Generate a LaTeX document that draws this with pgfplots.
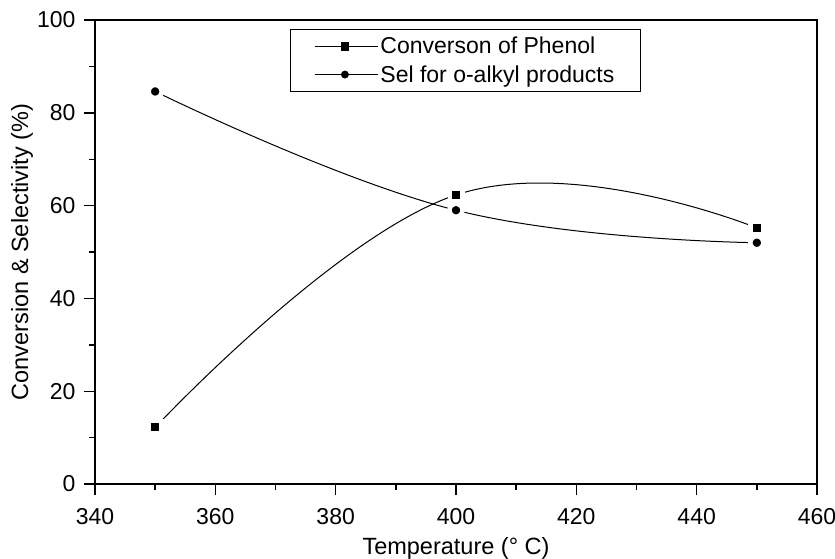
\documentclass[border=0pt]{standalone}
\usepackage{fontspec}
\setmainfont{Liberation Sans}
\usepackage{pgfplots}
\pgfplotsset{compat=1.18}
\begin{document}
\begin{tikzpicture}
\useasboundingbox (-95pt,-74pt) rectangle (740pt,484pt);
\begin{axis}[
  at={(0pt,0pt)}, anchor=south west,
  scale only axis, width=722pt, height=464pt,
  xmin=340, xmax=460, ymin=0, ymax=100,
  xtick={340,360,...,460}, ytick={0,20,...,100},
  minor x tick num=1, minor y tick num=1,
  xtick pos=bottom, ytick pos=left,
  tick align=outside,
  major tick length=11pt, minor tick length=6pt,
  every tick/.style={black, line width=1.4pt},
  axis line style={line width=1.6pt},
  /pgf/number format/assume math mode=true,
  tick label style={font=\fontsize{23}{27}\selectfont},
  xticklabel style={yshift=-10pt},
  yticklabel style={xshift=-5pt},
  label style={font=\fontsize{23.5}{28}\selectfont},
  xlabel={Temperature (\textdegree\ C)},
  ylabel={Conversion \& Selectivity (\%)},
  xlabel style={at={(axis description cs:0.5,-0.138)}, anchor=center},
  ylabel style={at={(axis description cs:-0.101,0.5)}, anchor=center},
  legend style={at={(0.270,0.981)}, anchor=north west, draw=black, line width=1pt,
    font=\fontsize{23}{27}\selectfont, inner xsep=24pt, inner ysep=6pt,
    row sep=6pt},
  legend cell align=left,
  legend image code/.code={
    \path (0pt,0pt) -- (63pt,0pt);
    \draw[#1, mark=none] (0pt,0pt) -- (60pt,0pt);
    \draw[#1, only marks, mark size=3.7pt, mark options={fill=black, draw=black, line width=0.4pt}] plot coordinates {(30pt,0pt)};
  },
]
\addplot[black, line width=1pt, smooth, tension=0.72, mark=square*, mark size=6.25pt,
  mark options={fill=black, draw=white, line width=4.5pt}]
  coordinates {(350,12.2) (400,62.3) (450,55.2)};
\addlegendentry{Converson of Phenol}
\addplot[black, line width=1pt, smooth, tension=0.72, mark=*, mark size=6.5pt,
  mark options={fill=black, draw=white, line width=4.5pt}]
  coordinates {(350,84.6) (400,59.0) (450,52.0)};
\addlegendentry{Sel for o-alkyl products}
\end{axis}
\end{tikzpicture}
\end{document}
